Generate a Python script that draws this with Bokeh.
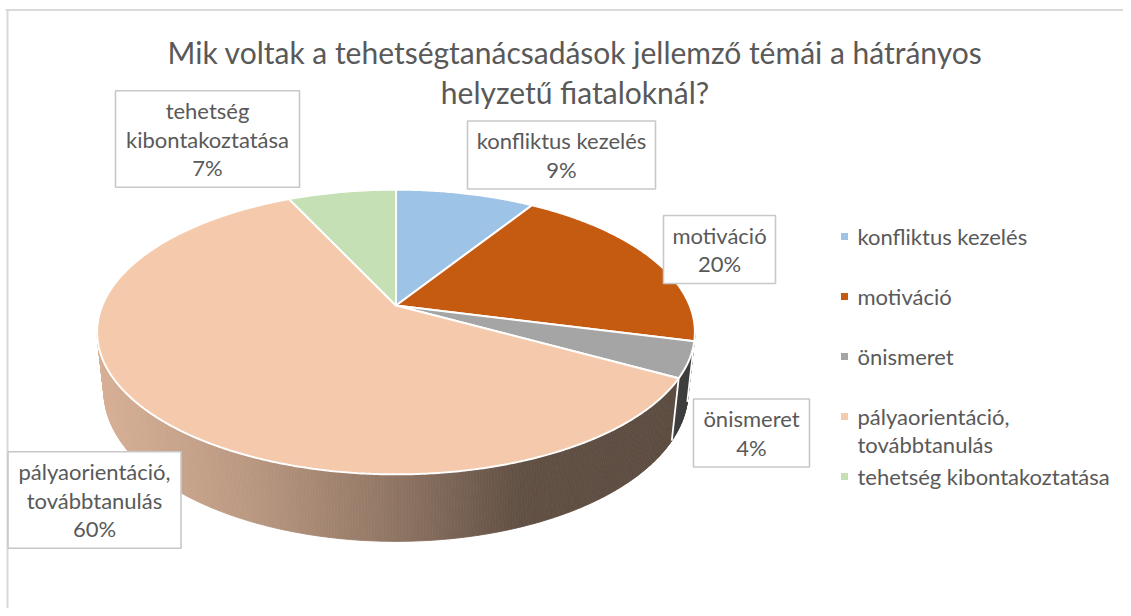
import numpy as np
from bokeh.plotting import figure
from bokeh.models import Range1d
from bokeh.embed import file_html
from bokeh.resources import INLINE
from bokeh.core.properties import value

# ---------------- data ----------------
title_lines = ["Mik voltak a tehetségtanácsadások jellemző témái a hátrányos",
               "helyzetű fiataloknál?"]
categories = ["konfliktus kezelés", "motiváció", "önismeret",
              "pályaorientáció, továbbtanulás", "tehetség kibontakoztatása"]
values = [9, 20, 4, 60, 7]
label_names = ["konfliktus kezelés", "motiváció", "önismeret",
               "pályaorientáció,\ntovábbtanulás", "tehetség\nkibontakoztatása"]
legend_names = ["konfliktus kezelés", "motiváció", "önismeret",
                "pályaorientáció,\ntovábbtanulás", "tehetség kibontakoztatása"]
colors = ["#9DC3E6", "#C55A11", "#A5A5A5", "#F5C9AB", "#C5E0B4"]

# ---------------- style / layout ----------------
FONT = "Lato"
TXT = "#595959"
W, H = 1123, 608
p = figure(width=W, height=H, x_range=Range1d(0, W), y_range=Range1d(H, 0),
           output_backend="svg", toolbar_location=None, min_border=0,
           x_axis_location=None, y_axis_location=None)
p.grid.visible = False
p.outline_line_color = None
p.background_fill_color = "white"
p.border_fill_color = "white"

# chart border (top & left visible)
p.line(x=[5, W], y=[9.5, 9.5], line_color="#D9D9D9", line_width=2)
p.line(x=[7, 7], y=[9.5, H], line_color="#D9D9D9", line_width=2)

# 3D perspective pie projection
cx, cy = 395.5, 305.0
D = 4.75
tilt = np.radians(27.9)
c, s = np.cos(tilt), np.sin(tilt)
f = 1395.0
thick = 0.231


def proj(theta, Y):
    X = np.sin(theta)
    Z = np.cos(theta)
    yv = Y * c + Z * s
    d = D + Z * c - Y * s
    return cx + f * X / d, cy - f * yv / d


vals = np.array(values, dtype=float)
fr = vals / vals.sum()
ends = np.cumsum(fr) * 2 * np.pi
starts = ends - fr * 2 * np.pi

# visible side range (silhouettes)
th_r = np.arccos(-c / D)
th_l = 2 * np.pi - th_r

shade_x = [97, 250, 400, 520, 720]
shade_k = [0.88, 0.76, 0.58, 0.40, 0.37]


def hex2rgb(h):
    h = h.lstrip("#")
    return np.array([int(h[i:i + 2], 16) for i in (0, 2, 4)], dtype=float)


side_xs, side_ys, side_cols = [], [], []
for i in range(len(values)):
    lo, hi = max(starts[i], th_r), min(ends[i], th_l)
    if lo >= hi:
        continue
    n = max(2, int(np.degrees(hi - lo) / 0.5) + 1)
    ths = np.linspace(lo, hi, n)
    base = hex2rgb(colors[i])
    for a, b in zip(ths[:-1], ths[1:]):
        ta = np.array([a, b])
        x1, y1 = proj(ta, 0.0)
        x2, y2 = proj(ta[::-1], -thick)
        xm = (x1.mean() + x2.mean()) / 2
        k = np.interp(xm, shade_x, shade_k)
        rgb = np.clip(base * k, 0, 255).astype(int)
        col = "#%02x%02x%02x" % tuple(rgb)
        side_xs.append(list(x1) + list(x2))
        side_ys.append(list(y1) + list(y2))
        side_cols.append(col)
p.patches(xs=side_xs, ys=side_ys, fill_color=side_cols, line_color=side_cols, line_width=0.8)

# white edges on side at slice boundaries
for e in ends:
    if th_r < e < th_l:
        xa, ya = proj(e, 0.0)
        xb, yb = proj(e, -thick)
        p.line(x=[xa, xb], y=[ya, yb], line_color="white", line_width=1.8)

# top face slices
top_xs, top_ys = [], []
for i in range(len(values)):
    n = max(3, int(np.degrees(ends[i] - starts[i]) * 2))
    ths = np.linspace(starts[i], ends[i], n)
    ax, ay = proj(ths, 0.0)
    top_xs.append([cx] + list(ax))
    top_ys.append([cy] + list(ay))
p.patches(xs=top_xs, ys=top_ys, fill_color=colors, line_color="white", line_width=2)

# title
title_y = [51, 91]
for ln, ty in zip(title_lines, title_y):
    p.text(x=[574.5], y=[ty], text=[ln], text_font=value(FONT), text_font_size="30px",
           text_color=TXT, text_align="center", text_baseline="middle")

# data labels in boxes
box_cx = [561, 719, 751, 94, 207]
box_cy = [154.5, 249, 432.5, 499.5, 138.5]
box_w = [188, 112, 116, 173, 184]
LH = 28.5
for i in range(len(values)):
    lines = label_names[i].split("\n") + [f"{values[i]}%"]
    nl = len(lines)
    p.rect(x=[box_cx[i]], y=[box_cy[i]], width=[box_w[i]], height=[nl * LH + 11],
           fill_color="white", line_color="#C8C8C8", line_width=1.6)
    ys = [box_cy[i] + (j - (nl - 1) / 2) * LH for j in range(nl)]
    p.text(x=[box_cx[i]] * nl, y=ys, text=lines, text_font=value(FONT),
           text_font_size="22px", text_color=TXT, text_align="center", text_baseline="middle")

# legend
leg_x, leg_y0, leg_step = 844, 236, 60
for i in range(len(values)):
    ly = leg_y0 + i * leg_step
    p.scatter(x=[leg_x], y=[ly], marker="square", size=7, fill_color=colors[i], line_color=None)
    lines = legend_names[i].split("\n")
    p.text(x=[857] * len(lines), y=[ly + j * 28 for j in range(len(lines))], text=lines,
           text_font=value(FONT), text_font_size="22px", text_color=TXT,
           text_align="left", text_baseline="middle")

open("out.html", "w").write(file_html(p, INLINE))
